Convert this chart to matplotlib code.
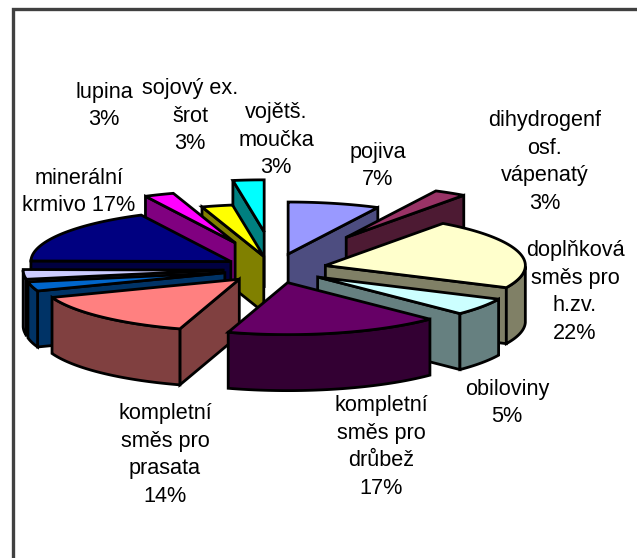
import numpy as np
import matplotlib
matplotlib.use('Agg')
import matplotlib.pyplot as plt
from matplotlib.patches import Polygon

plt.rcParams['font.family'] = ['Liberation Sans', 'DejaVu Sans']

# shares in percent, clockwise from the top
names = ['pojiva', 'dihydrogenfosf. vápenatý', 'doplňková směs pro h.zv.', 'obiloviny',
         'kompletní směs pro drůbež', 'kompletní směs pro prasata', 'ostatní 1', 'ostatní 2',
         'minerální krmivo', 'lupina', 'sojový ex. šrot', 'vojětš. moučka']
values = [7.4, 2.6, 22.0, 5.4, 17.4, 14.49, 2.9, 3.0, 17.41, 2.4, 2.5, 2.5]
explode = [57, 137, 52, 52, 52, 52, 52, 52, 52, 105, 48, 138]
colors = ['#9999FF', '#993366', '#FFFFCC', '#CCFFFF', '#660066', '#FF8080',
          '#0066CC', '#CCCCFF', '#000080', '#FF00FF', '#FFFF00', '#00FFFF']
sides = ['#4D4D80', '#4D1A33', '#808066', '#668080', '#330033', '#804040',
         '#003366', '#666680', '#000040', '#800080', '#808000', '#008080']
draw_order = [11, 10, 9, 8, 7, 6, 5, 0, 1, 2, 3, 4]

labels = ['pojiva\n7%', 'dihydrogenf\nosf.\nvápenatý\n3%', 'doplňková\nsměs pro\nh.zv.\n22%',
          'obiloviny\n5%', 'kompletní\nsměs pro\ndrůbež\n17%', 'kompletní\nsměs pro\nprasata\n14%',
          'minerální\nkrmivo 17%', 'lupina\n3%', 'sojový ex.\nšrot\n3%', 'vojětš.\nmoučka\n3%']
label_xy = [(378, 166), (545, 162), (575, 292), (507, 403), (381, 447), (165, 455),
            (79, 192), (104, 106), (190, 116), (276, 140)]

cx, cy = 275, 269
rx, ry = 200, 52
h = 56

fig = plt.figure(figsize=(6.37, 5.58), dpi=100)
ax = fig.add_axes([0, 0, 1, 1])
ax.set_xlim(0, 637)
ax.set_ylim(558, 0)
ax.axis('off')

ax.add_patch(plt.Rectangle((12.5, 9), 650, 600, fc='white', ec='#404040', lw=2.4, zorder=0))

edges = np.cumsum([0] + values) / 100 * 2 * np.pi
lw = 2.0
z = 1


def wall(top, fc):
    global z
    pts = np.vstack([top, top[::-1] + [0, h]])
    ax.add_patch(Polygon(pts, closed=True, fc=fc, ec='black', lw=lw, joinstyle='miter', zorder=z))
    z += 1


for i in draw_order:
    a0, a1 = edges[i], edges[i + 1]
    mid = (a0 + a1) / 2
    ax0 = cx + explode[i] * np.sin(mid)
    ay0 = cy - explode[i] * np.cos(mid) * 0.27
    t = np.linspace(a0, a1, 60)
    arc = np.column_stack([ax0 + rx * np.sin(t), ay0 - ry * np.cos(t)])
    apex = np.array([[ax0, ay0]])
    # only the walls that face the viewer
    if np.sin(a0) < 0:
        wall(np.vstack([apex, arc[:1]]), sides[i])
    if np.sin(a1) > 0:
        wall(np.vstack([apex, arc[-1:]]), sides[i])
    front = np.cos(t) < 0
    if front.sum() > 1:
        wall(arc[front], sides[i])
    ax.add_patch(Polygon(np.vstack([apex, arc]), closed=True, fc=colors[i], ec='black', lw=lw,
                         joinstyle='miter', zorder=z))
    z += 1

for s, (x, y) in zip(labels, label_xy):
    ax.text(x, y, s, ha='center', va='center', fontsize=15.6, linespacing=1.41, color='black', zorder=z)

fig.savefig('out.png', dpi=100)
